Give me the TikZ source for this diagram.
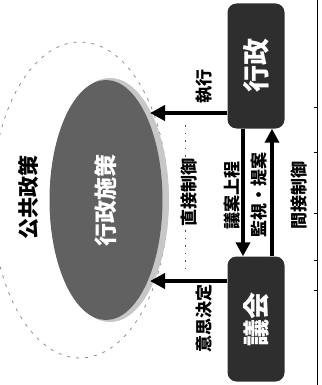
\documentclass[tikz,border=0pt]{standalone}
\usepackage{fontspec}
\setmainfont{Noto Sans CJK JP}
\usepackage{graphicx}
\usetikzlibrary{arrows.meta,shapes.geometric}
\begin{document}
\begin{tikzpicture}[x=1pt,y=-1pt,
  box/.style={fill=black!82,rounded corners=9pt,minimum width=57pt,minimum height=125pt,inner sep=0pt,text=white,font=\fontsize{27}{27}\bfseries\selectfont},
  lab/.style={rotate=90,inner sep=1pt,font=\fontsize{17}{17}\bfseries\selectfont},
  bigarrow/.style={line width=4pt,-{Triangle[length=15pt,width=15pt]}},
  varrow/.style={line width=3.5pt,-{Triangle[length=14pt,width=14pt]}},
  dotline/.style={black!70,line width=1pt,dash pattern=on 1.5pt off 6pt},
  halo/.style={fill=black!22},
  outer/.style={black!45,line width=0.8pt,dash pattern=on 3pt off 6pt},
]
\useasboundingbox (0,0) rectangle (321,385);
% outer dashed ellipse and halo
\draw[outer] (80,200) ellipse [x radius=88,y radius=158];
\fill[halo] (110,200) ellipse [x radius=59,y radius=122];
% ellipse
\node[ellipse,fill=black!62,minimum width=113pt,minimum height=240pt,inner sep=0pt,text=white,font=\fontsize{23}{23}\bfseries\selectfont] (seisaku) at (106,200) {\rotatebox{90}{行政施策}};
% boxes
\node[box] (gyosei) at (256,66) {\rotatebox{90}{行政}};
\node[box] (gikai) at (256,319) {\rotatebox{90}{議会}};
% horizontal arrows
\coordinate (t1) at (150,113);
\coordinate (t2) at (150,281);
\draw[bigarrow] (gyosei.west |- t1) -- (t1);
\draw[bigarrow] (gikai.west |- t2) -- (t2);
\node[lab] (shikko) at (204,86) {執行};
\node[lab] (ishi) at (204,318) {意思決定};
% dotted direct control
\coordinate (d1) at (185,125);
\coordinate (d2) at (185,275);
\draw[dotline] (d1) -- (d2);
\node[lab,fill=white] (chokusetsu) at (189,192) {直接制御};
% vertical arrows
\coordinate (a1) at (243,0);
\coordinate (a2) at (272,0);
\draw[varrow] (gyosei.south -| a1) -- (gikai.north -| a1);
\draw[varrow] (gikai.north -| a2) -- (gyosei.south -| a2);
\node[lab] (gian) at (232,195) {議案上程};
\node[lab] (kansa) at (259,195) {監視・提案};
\node[lab] (kansetsu) at (299,195) {間接制御};
% title
\node[lab,font=\fontsize{21}{21}\bfseries\selectfont] (kokyo) at (28,197) {公共政策};
% page edge
\coordinate (e1) at (317,0);
\coordinate (e2) at (317,385);
\draw[line width=1pt] (e1) -- (e2);
\foreach \yy in {107,152,213,260,290}{\draw[line width=0.8pt] (314,\yy) -- (317,\yy);}
\end{tikzpicture}
\end{document}
